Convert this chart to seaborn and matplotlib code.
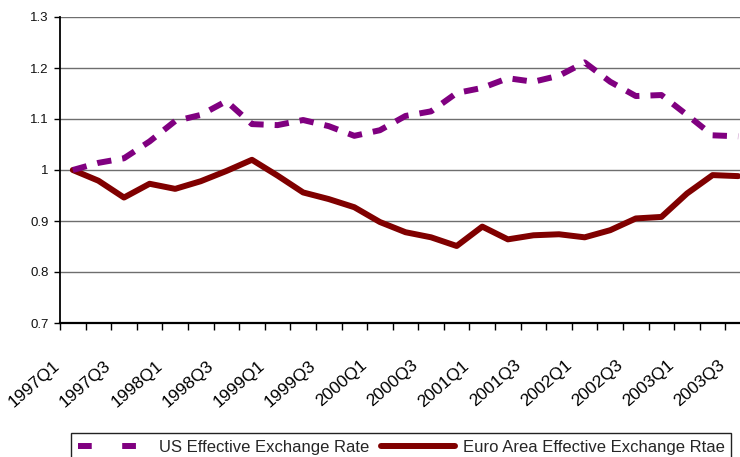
import numpy as np
import pandas as pd
import matplotlib
matplotlib.use("Agg")
import matplotlib.pyplot as plt
import matplotlib.transforms as mtransforms
from matplotlib.lines import Line2D
from matplotlib import font_manager
import seaborn as sns

# Quarterly effective exchange rate indices (1997Q1 = 1)
quarters = [
    "1997Q1", "1997Q2", "1997Q3", "1997Q4",
    "1998Q1", "1998Q2", "1998Q3", "1998Q4",
    "1999Q1", "1999Q2", "1999Q3", "1999Q4",
    "2000Q1", "2000Q2", "2000Q3", "2000Q4",
    "2001Q1", "2001Q2", "2001Q3", "2001Q4",
    "2002Q1", "2002Q2", "2002Q3", "2002Q4",
    "2003Q1", "2003Q2", "2003Q3",
]
us_rate = [
    1.000, 1.014, 1.023, 1.056, 1.096, 1.108, 1.135, 1.090, 1.088,
    1.098, 1.086, 1.067, 1.078, 1.106, 1.115, 1.151, 1.161, 1.180,
    1.173, 1.185, 1.211, 1.173, 1.145, 1.147, 1.108, 1.068, 1.066,
]
euro_rate = [
    1.000, 0.979, 0.946, 0.973, 0.963, 0.978, 0.998, 1.020, 0.989,
    0.956, 0.943, 0.927, 0.898, 0.878, 0.868, 0.851, 0.889, 0.864,
    0.872, 0.874, 0.868, 0.882, 0.905, 0.908, 0.954, 0.990, 0.988,
]
series_names = ["US Effective Exchange Rate", "Euro Area Effective Exchange Rtae"]
y_ticks = [0.7, 0.8, 0.9, 1.0, 1.1, 1.2, 1.3]
y_tick_labels = ["0.7", "0.8", "0.9", "1", "1.1", "1.2", "1.3"]

US_COLOR = "#800080"
EURO_COLOR = "#800000"

sns.set_style("white")
installed = {f.name for f in font_manager.fontManager.ttflist}
base_font = "Liberation Sans" if "Liberation Sans" in installed else "DejaVu Sans"
narrow_font = "Liberation Sans Narrow" if "Liberation Sans Narrow" in installed else base_font
plt.rcParams["font.family"] = [base_font, "DejaVu Sans"]

df = pd.DataFrame({
    "pos": np.arange(len(quarters)),
    "quarter": quarters,
    "us": us_rate,
    "euro": euro_rate,
})

W, H = 740, 457
fig = plt.figure(figsize=(W / 100, H / 100), dpi=100)
ax = fig.add_axes([60 / W, 134 / H, 691 / W, 306 / H])

lw = 4.3
sns.lineplot(data=df, x="pos", y="euro", ax=ax, color=EURO_COLOR, linewidth=lw,
             solid_capstyle="round", solid_joinstyle="round", legend=False, zorder=3)
sns.lineplot(data=df, x="pos", y="us", ax=ax, color=US_COLOR, linewidth=lw,
             linestyle=(0, (2.4, 1.85)), dash_capstyle="butt", legend=False, zorder=4)

ax.set_xlim(-0.5, len(quarters) - 0.5)
ax.set_ylim(0.7, 1.3)
ax.set_xlabel("")
ax.set_ylabel("")

# y axis
ax.set_yticks(y_ticks)
ax.set_yticklabels(y_tick_labels)
ax.tick_params(axis="y", which="major", direction="out", length=4, width=1,
               color="black", pad=4, labelsize=9.5, labelcolor="#111111", left=True)
ax.yaxis.grid(True, color="#6e6e6e", linewidth=1.0)
ax.set_axisbelow(True)

# x axis: tick marks between categories, labels on every other quarter
ax.set_xticks(np.arange(-0.5, len(quarters), 1.0))
ax.tick_params(axis="x", which="major", direction="out", length=5, width=1,
               color="black", labelbottom=False, bottom=True)
label_pos = df["pos"].values[::2]
ax.set_xticks(label_pos, minor=True)
ax.set_xticklabels(df["quarter"].values[::2], minor=True)
ax.tick_params(axis="x", which="minor", length=0, pad=29)
shift = mtransforms.ScaledTranslation(-15 / 100, 0, fig.dpi_scale_trans)
for lab in ax.get_xticklabels(minor=True):
    lab.set_rotation(41)
    lab.set_rotation_mode("anchor")
    lab.set_ha("right")
    lab.set_va("center")
    lab.set_fontfamily([narrow_font, "DejaVu Sans"])
    lab.set_fontsize(14 if narrow_font != base_font else 12.5)
    lab.set_color("black")
    lab.set_transform(lab.get_transform() + shift)

for side in ("top", "right"):
    ax.spines[side].set_visible(False)
ax.spines["left"].set_color("black")
ax.spines["left"].set_linewidth(1.3)
ax.spines["bottom"].set_color("black")
ax.spines["bottom"].set_linewidth(1.6)

# legend along the bottom
handles = [
    Line2D([], [], color=US_COLOR, linewidth=lw, dashes=(2.3, 5.1), dash_capstyle="butt"),
    Line2D([], [], color=EURO_COLOR, linewidth=lw, solid_capstyle="round"),
]
leg = fig.legend(handles, series_names, loc="upper left",
                 bbox_to_anchor=(71 / W, 1 - 433 / H), ncol=2, fontsize=12,
                 frameon=True, fancybox=False, framealpha=1, edgecolor="#222222",
                 handlelength=4.4, handletextpad=0.5, columnspacing=0.7,
                 borderpad=0.4, borderaxespad=0)
leg.get_frame().set_linewidth(1.0)

fig.savefig("out.png", dpi=100)
